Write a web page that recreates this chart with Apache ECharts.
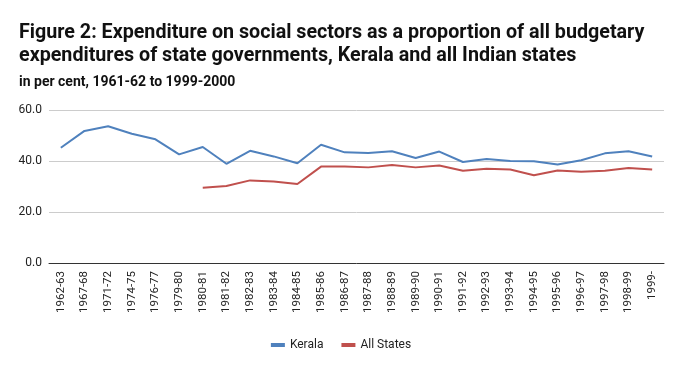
<!DOCTYPE html>
<html>
<head>
<meta charset="utf-8">
<script src="https://cdn.jsdelivr.net/npm/echarts@6/dist/echarts.min.js"></script>
<style>html,body{margin:0;padding:0;background:#fff;}#c{width:682px;height:371px;}</style>
</head>
<body>
<div id="c"></div>
<script>
const categories = ["1962-63","1967-68","1971-72","1974-75","1976-77","1979-80","1980-81","1981-82","1982-83","1983-84","1984-85","1985-86","1986-87","1987-88","1988-89","1989-90","1990-91","1991-92","1992-93","1993-94","1994-95","1995-96","1996-97","1997-98","1998-99","1999-"];
const kerala = [45.2,51.8,53.6,50.7,48.5,42.6,45.5,38.9,44.0,41.8,39.1,46.4,43.4,43.1,43.8,41.2,43.7,39.6,40.8,40.0,39.9,38.6,40.3,43.0,43.8,41.8];
const allStates = [null,null,null,null,null,null,29.5,30.2,32.4,32.0,31.0,37.8,37.8,37.5,38.4,37.5,38.2,36.2,37.0,36.7,34.4,36.3,35.8,36.2,37.3,36.7];
const yTicks = [0,20,40,60];

const chart = echarts.init(document.getElementById('c'));
chart.setOption({
  animation:false,
  textStyle:{fontFamily:'Roboto'},
  title:[
    {text:'Figure 2: Expenditure on social sectors as a proportion of all budgetary\nexpenditures of state governments, Kerala and all Indian states',
     left:19, top:22, padding:0, textStyle:{fontFamily:'Roboto',fontWeight:'bold',fontSize:19.7,lineHeight:23,color:'#111'}},
    {text:'in per cent, 1961-62 to 1999-2000', left:19, top:75, padding:0,
     textStyle:{fontFamily:'Roboto',fontWeight:'bold',fontSize:14,color:'#111'}}
  ],
  legend:{bottom:15, left:'center', itemWidth:14, itemHeight:4, itemGap:18, icon:'rect',
    textStyle:{fontFamily:'Roboto',fontSize:12,color:'#222'},
    data:['Kerala','All States']},
  grid:{left:49,right:18,top:110,bottom:108},
  xAxis:{type:'category',data:categories,boundaryGap:true,
    axisLine:{lineStyle:{color:'#333',width:1}},axisTick:{show:false},
    axisLabel:{rotate:90,interval:0,fontFamily:'Roboto',fontSize:11.5,color:'#222',margin:8}},
  yAxis:{type:'value',min:yTicks[0],max:yTicks[yTicks.length-1],interval:20,
    axisLine:{show:false},axisTick:{show:false},
    splitLine:{lineStyle:{color:'#ccc'}},
    axisLabel:{formatter:v=>v.toFixed(1),fontFamily:'Roboto',fontSize:12,color:'#222',margin:7}},
  series:[
    {name:'Kerala',type:'line',data:kerala,symbol:'none',lineStyle:{width:2,color:'#4f81bd'},itemStyle:{color:'#4f81bd'}},
    {name:'All States',type:'line',data:allStates,symbol:'none',lineStyle:{width:2,color:'#c0504d'},itemStyle:{color:'#c0504d'}}
  ]
});
</script>
</body>
</html>
